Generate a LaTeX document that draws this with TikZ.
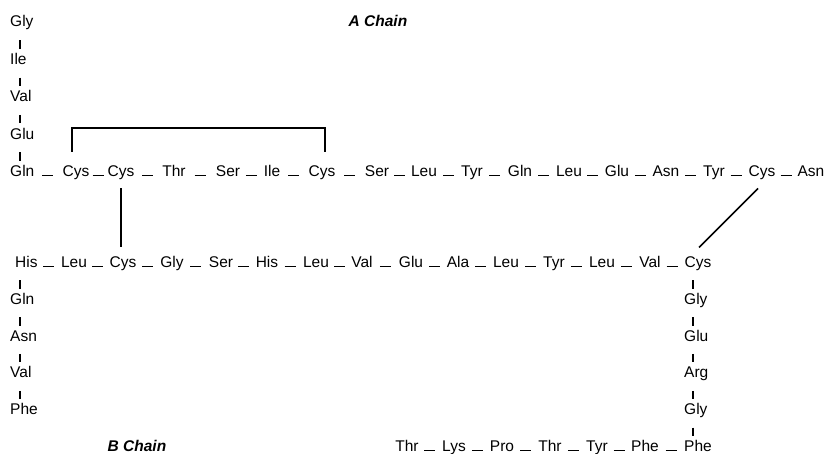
\documentclass[tikz,border=0pt]{standalone}
\usepackage{fontspec}
\setmainfont{Liberation Sans}
\usetikzlibrary{calc}

\tikzset{
  aa/.style={inner sep=0pt, anchor=base, font=\fontsize{15.5}{18}\selectfont},
  aaw/.style={aa, anchor=base west},
  chaintitle/.style={inner sep=0pt, anchor=base, font=\fontsize{15.5}{18}\selectfont\bfseries\itshape},
  bondline/.style={line width=1.4pt},
  ssline/.style={line width=1.7pt}
}

% peptide bond: a short dash in the gap between two residues of a row
\newcommand\hb[2]{%
  \path ($(#1.base east)!0.48!(#2.base west)$) coordinate (hbm);
  \draw[bondline] (hbm) ++(-5.5,-1) -- ++(11,0);}
% peptide bond: a short bar between two residues of a column
\newcommand\vb[3]{%
  \path ($(#1.base)!0.5!(#2.base)$) coordinate (vbm);
  \draw[bondline] (#3 |- vbm) ++(0,-5.5) -- ++(0,8.5);}

\begin{document}
\begin{tikzpicture}[x=1pt, y=-1pt]
\useasboundingbox (0,0) rectangle (828,454);

% column guides for the vertical bonds
\coordinate (colA) at (20,0);
\coordinate (colB) at (20,0);
\coordinate (colC) at (693,0);

% ---------- A chain ----------
\node[aaw] (a0a) at (10,27)    {Gly};
\node[aaw] (a0b) at (10,64.4)  {Ile};
\node[aaw] (a0c) at (10,101.8) {Val};
\node[aaw] (a0d) at (10,139.1) {Glu};
\node[aaw] (a1)  at (10,176.5) {Gln};
\foreach \n/\x/\t in {a2/76/Cys, a3/121/Cys, a4/174/Thr, a5/228/Ser, a6/272/Ile,
  a7/322/Cys, a8/377/Ser, a9/424/Leu, a10/472/Tyr, a11/520/Gln, a12/569/Leu,
  a13/617/Glu, a14/666/Asn, a15/714/Tyr, a16/762/Cys, a17/811/Asn}
  \node[aa] (\n) at (\x,176.5) {\t};

\node[chaintitle] (ta) at (378,27) {A Chain};

% ---------- B chain ----------
\node[aaw] (b1)  at (15,267.5) {His};
\foreach \n/\x/\t in {b2/74/Leu, b3/123/Cys, b4/172/Gly, b5/221/Ser, b6/267/His,
  b7/316/Leu, b8/362/Val, b9/411/Glu, b10/458/Ala, b11/506/Leu, b12/554/Tyr,
  b13/602/Leu, b14/650/Val, b15/698/Cys}
  \node[aa] (\n) at (\x,267.5) {\t};

\node[aaw] (b0a) at (10,304.3) {Gln};
\node[aaw] (b0b) at (10,341.1) {Asn};
\node[aaw] (b0c) at (10,377.9) {Val};
\node[aaw] (b0d) at (10,414.7) {Phe};

\node[aaw] (c1) at (684,304.3) {Gly};
\node[aaw] (c2) at (684,341.1) {Glu};
\node[aaw] (c3) at (684,377.9) {Arg};
\node[aaw] (c4) at (684,414.7) {Gly};
\node[aaw] (c5) at (684,451.5) {Phe};

\foreach \n/\x/\t in {d1/407/Thr, d2/454/Lys, d3/502/Pro, d4/550/Thr, d5/597/Tyr, d6/645/Phe}
  \node[aa] (\n) at (\x,451.5) {\t};

\node[chaintitle] (tb) at (137,451.5) {B Chain};

% ---------- peptide bonds ----------
\foreach \p/\q in {a1/a2, a2/a3, a3/a4, a4/a5, a5/a6, a6/a7, a7/a8, a8/a9, a9/a10,
  a10/a11, a11/a12, a12/a13, a13/a14, a14/a15, a15/a16, a16/a17}
  \hb{\p}{\q};
\foreach \p/\q in {b1/b2, b2/b3, b3/b4, b4/b5, b5/b6, b6/b7, b7/b8, b8/b9, b9/b10,
  b10/b11, b11/b12, b12/b13, b13/b14, b14/b15}
  \hb{\p}{\q};
\foreach \p/\q in {d1/d2, d2/d3, d3/d4, d4/d5, d5/d6, d6/c5}
  \hb{\p}{\q};

\foreach \p/\q in {a0a/a0b, a0b/a0c, a0c/a0d, a0d/a1} \vb{\p}{\q}{colA};
\foreach \p/\q in {b1/b0a, b0a/b0b, b0b/b0c, b0c/b0d} \vb{\p}{\q}{colB};
\foreach \p/\q in {b15/c1, c1/c2, c2/c3, c3/c4, c4/c5} \vb{\p}{\q}{colC};

% ---------- disulfide bridges ----------
\draw[ssline] ([shift={(-4pt,24.5pt)}]a2.base) |- ([shift={(3pt,48.5pt)}]a7.base)
  -- ([shift={(3pt,24.5pt)}]a7.base);
\draw[ssline] ([yshift=-12pt]a3.base) -- ($(a3.base |- b3.base)+(0,-20)$);
\draw[ssline] ([shift={(-4pt,-12pt)}]a16.base) -- ([shift={(1pt,20pt)}]b15.base);
\end{tikzpicture}
\end{document}
